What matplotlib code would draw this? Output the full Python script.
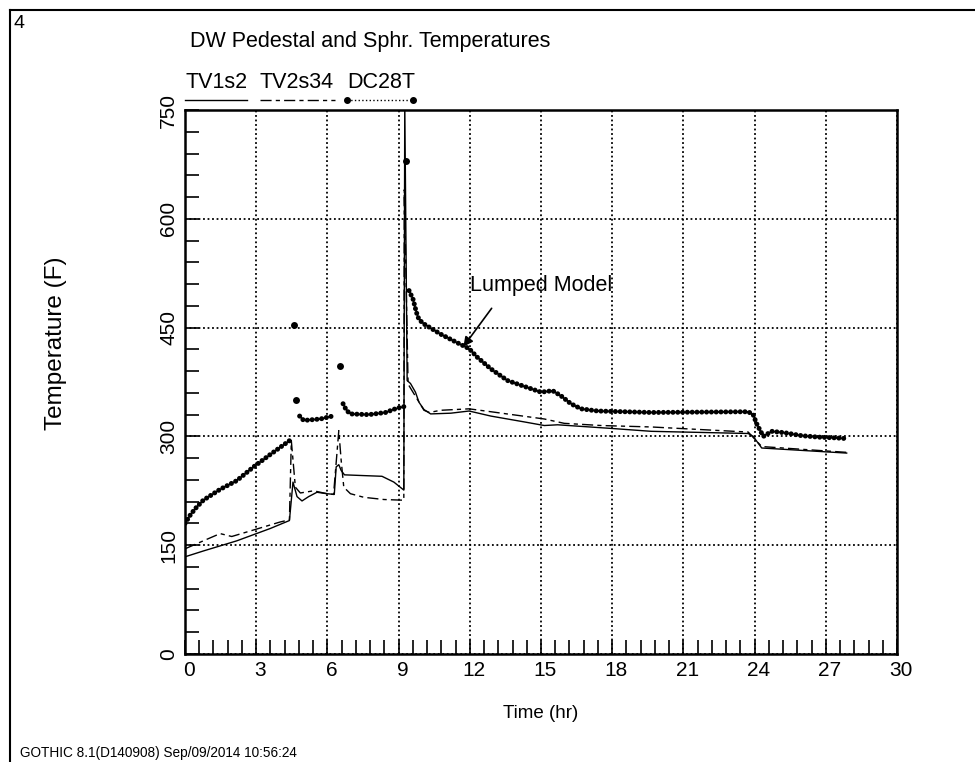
import numpy as np
import matplotlib
matplotlib.use("Agg")
import matplotlib.pyplot as plt
import matplotlib.ticker
from matplotlib.lines import Line2D
from matplotlib.transforms import ScaledTranslation

plt.rcParams['font.family'] = ['Liberation Sans', 'DejaVu Sans']

# TV1s2 (solid)
tv1_t = [0.0, 0.77, 2.18, 3.59, 4.40, 4.55, 4.72, 4.93, 5.21, 5.56, 5.98, 6.29,
         6.37, 6.48, 6.58, 6.72, 7.50, 8.30, 8.80, 9.22, 9.26, 9.36, 9.50, 9.71,
         9.86, 10.07, 10.35, 11.20, 11.97, 12.89, 14.29, 15.14, 15.70, 17.96,
         19.65, 23.73, 23.94, 24.30, 27.88]
tv1_T = [134, 142, 156, 173, 184, 237, 217, 211, 217, 223, 221, 220,
         258, 261, 253, 247, 246, 245, 237, 226, 760, 377, 373, 361,
         347, 337, 331, 332, 335, 328, 320, 315, 316, 311,
         307, 304, 300, 284, 277]

# TV2s34 (dash-dot)
tv2_t = [0.0, 0.77, 1.48, 1.97, 2.89, 4.01, 4.40, 4.48, 4.65, 4.86, 5.42, 5.98,
         6.26, 6.48, 6.58, 6.69, 6.97, 7.54, 8.38, 9.22, 9.24, 9.40, 10.07, 10.30,
         10.77, 11.97, 12.89, 15.14, 15.98, 17.53, 19.65, 23.73, 24.30, 27.88]
tv2_T = [145, 156, 166, 162, 171, 182, 185, 294, 230, 222, 225, 221,
         220, 308, 267, 230, 221, 216, 213, 212, 640, 372, 336, 333,
         336, 338, 334, 324, 318, 315, 313, 306, 286, 278]

# DC28T (dotted markers), nan = break between groups of dots
dc_t = [0.0, 0.21, 0.42, 0.77, 1.48, 2.18, 2.89, 3.59, 4.44, np.nan,
        4.83, 5.00, 5.70, 6.34, np.nan,
        6.66, 6.80, 6.97, 7.75, 8.45, 8.94, 9.22, np.nan,
        9.44, 9.61, 9.75, 9.86, 10.07, 10.77, 11.48, 11.97, 12.32, 12.89, 13.59,
        14.29, 15.00, 15.49, 15.84, 16.26, 16.69, 17.39, 19.65, 23.73, 23.94,
        24.08, 24.22, 24.37, 24.72, 25.28, 25.98, 26.69, 27.39, 27.88]
dc_T = [180, 191, 200, 212, 227, 239, 258, 275, 295, np.nan,
        328, 322, 324, 329, np.nan,
        345, 336, 331, 330, 333, 339, 341, np.nan,
        501, 489, 471, 461, 455, 441, 429, 421, 409, 393, 377,
        369, 361, 363, 356, 345, 338, 335, 333, 334, 330,
        318, 309, 300, 307, 305, 301, 299, 298, 297]
# isolated DC28T spikes
dc_spike_t = [4.58, 4.69, 6.55, 9.32]
dc_spike_T = [453, 350, 397, 679]

fig = plt.figure(figsize=(9.75, 7.62), dpi=100)
W, H = 975.0, 762.0
ax = fig.add_axes([185 / W, 1 - 654 / H, 712 / W, 544 / H])

ax.plot(tv1_t, tv1_T, color='black', lw=1.0)
ax.plot(tv2_t, tv2_T, color='black', lw=1.0, ls=(0, (8, 3, 3, 3)))
ax.plot(dc_t, dc_T, color='black', lw=3.6, ls=(0, (0.01, 0.95)),
        dash_capstyle='round')
ax.plot(dc_spike_t, dc_spike_T, 'o', color='black', ms=5, mew=0)

ax.set_xlim(0, 30)
ax.set_ylim(0, 750)
ax.xaxis.set_major_locator(matplotlib.ticker.MultipleLocator(3))
ax.xaxis.set_minor_locator(matplotlib.ticker.MultipleLocator(0.6))
ax.yaxis.set_major_locator(matplotlib.ticker.MultipleLocator(150))
ax.yaxis.set_minor_locator(matplotlib.ticker.MultipleLocator(30))
ax.tick_params(which='both', direction='in', length=10, width=1.2,
               top=False, right=False, labelsize=15, pad=5)
ax.grid(True, which='major', color='black', ls=(0, (1, 1.5)), lw=1.3)
for s in ax.spines.values():
    s.set_linewidth(1.8)

for lbl in ax.get_yticklabels():
    lbl.set_rotation(90)
    lbl.set_va('center')
for lbl in ax.get_xticklabels():
    lbl.set_transform(lbl.get_transform() + ScaledTranslation(4 / 100, 0, fig.dpi_scale_trans))

ax.set_xlabel('Time (hr)', fontsize=13.5, labelpad=18)
fig.text(56 / W, 1 - 343 / H, 'Temperature (F)', fontsize=17.5, rotation=90,
         ha='center', va='center')

# annotation
ax.text(12.0, 508, 'Lumped Model', fontsize=15.5, va='center', ha='left')
ax.annotate('', xy=(11.73, 423.7), xytext=(12.92, 476.6),
            arrowprops=dict(arrowstyle='-|>', color='black', lw=1.2,
                            shrinkA=0, shrinkB=0, mutation_scale=14))

# title and page decoration
fig.text(190 / W, 1 - 41 / H, 'DW Pedestal and Sphr. Temperatures', fontsize=15.5,
         va='center', ha='left')
fig.text(13 / W, 1 - 24 / H, '4', fontsize=14, va='center', ha='left')
fig.text(20 / W, 1 - 753 / H, 'GOTHIC 8.1(D140908) Sep/09/2014 10:56:24', fontsize=9.8,
         va='center', ha='left')
fig.add_artist(Line2D([10 / W, 10 / W], [0, 1 - 10 / H], color='black', lw=1.5))
fig.add_artist(Line2D([10 / W, 1], [1 - 10 / H, 1 - 10 / H], color='black', lw=1.5))

# legend above the plot
leg_names = ['TV1s2', 'TV2s34', 'DC28T']
leg_x = [(185, 247), (260, 335), (347, 413)]
for name, (x0, x1) in zip(leg_names, leg_x):
    fig.text(x0 / W, 1 - 82 / H, name, fontsize=15.5, va='center', ha='left')
yl = 1 - 100 / H
fig.add_artist(Line2D([185 / W, 247 / W], [yl, yl], color='black', lw=1.0))
fig.add_artist(Line2D([260 / W, 335 / W], [yl, yl], color='black', lw=1.0,
                      ls=(0, (8, 3, 3, 3))))
fig.add_artist(Line2D([347 / W, 413 / W], [yl, yl], color='black', lw=1.0, ls=':',
                      marker='o', ms=4, markevery=[0, 1]))

fig.savefig('out.png', dpi=100)
